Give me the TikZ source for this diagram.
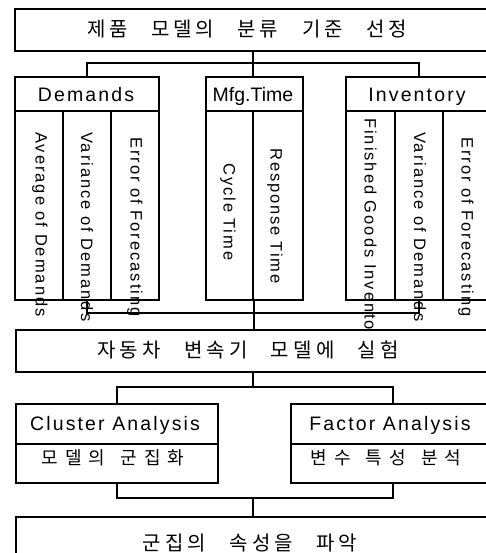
\documentclass[tikz,border=0pt]{standalone}
\usepackage{fontspec}
\setmainfont{Liberation Sans}
\newfontfamily\krfont{Noto Sans CJK KR}
\newcommand\bx[5]{\node[box, minimum width=#4pt, minimum height=#5pt] (#1) at (#2,#3) {};}
\newlength\kgap
\newlength\wgap
\newcommand\kk{\hspace{\kgap}}
\newcommand\ww{\hspace{\wgap}}
\newcommand\setgaps[2]{\setlength\kgap{#1pt}\setlength\wgap{#2pt}}
\begin{document}
\begin{tikzpicture}[x=1pt,y=-1pt,
  box/.style={draw, line width=1.8pt, fill=white, inner sep=0pt, anchor=north west},
  conn/.style={line width=1.9pt},
  hdr/.style={inner sep=0pt, anchor=base, font={\fontsize{19.5}{22}\selectfont\addfontfeature{LetterSpace=11}}},
  mfgt/.style={inner sep=0pt, anchor=base, font={\fontsize{19.5}{22}\selectfont}},
  vt/.style={inner sep=0pt, rotate=-90, anchor=west, font={\fontsize{16.5}{19}\selectfont\addfontfeature{LetterSpace=12}}},
  vtc/.style={inner sep=0pt, rotate=-90, anchor=center, font={\fontsize{16.5}{19}\selectfont\addfontfeature{LetterSpace=11}}},
  krA/.style={inner sep=0pt, font={\krfont\fontsize{20}{24}\selectfont\setgaps{3.5}{24}}},
  krB/.style={inner sep=0pt, font={\krfont\fontsize{20}{24}\selectfont\setgaps{4.2}{23.2}}},
  krC/.style={inner sep=0pt, font={\krfont\fontsize{18}{21}\selectfont\setgaps{7}{15}}},
  en/.style={inner sep=0pt, anchor=base, font={\fontsize{19.5}{22}\selectfont\addfontfeature{LetterSpace=11}}}
]
\useasboundingbox (0,0) rectangle (486,553);
\clip (0,0) rectangle (486,553);
% top
\bx{title}{14}{8}{481}{42}
\node[krA] (titletxt) at (247,29) {제\kk 품\ww 모\kk 델\kk 의\ww 분\kk 류\ww 기\kk 준\ww 선\kk 정};
\bx{dem}{14}{76}{144}{34}
\bx{mfg}{205}{76}{97}{34}
\bx{inv}{345}{76}{150}{34}
\node[hdr] (demtxt) at (86,102) {Demands};
\node[mfgt] (mfgtxt) at (253,102) {Mfg.Time};
\node[hdr] (invtxt) at (417,102) {Inventory};
% columns
\bx{demA}{14}{110}{48}{189}
\bx{demB}{62}{110}{48}{189}
\bx{demC}{110}{110}{48}{189}
\bx{mfgA}{205}{110}{47}{189}
\bx{mfgB}{252}{110}{50}{189}
\bx{invA}{345}{110}{49}{189}
\bx{invB}{394}{110}{48}{189}
\bx{invC}{442}{110}{53}{189}
\node[vt] (t1) at (40,132) {Average of Demands};
\node[vt] (t2) at (87,132) {Variance of Demands};
\node[vt] (t3) at (135,137) {Error of Forecasting};
\node[vtc] (t4) at (228,212) {Cycle Time};
\node[vtc] (t5) at (275,216) {Response Time};
\node[vt] (t6) at (369,118) {Finished Goods Inventory};
\node[vt] (t7) at (420,132) {Variance of Demands};
\node[vt] (t8) at (466,137) {Error of Forecasting};
% experiment box
\bx{exp}{15}{329}{480}{42}
\node[krB] (exptxt) at (248,350) {자\kk 동\kk 차\ww 변\kk 속\kk 기\ww 모\kk 델\kk 에\ww 실\kk 험};
% connectors top
\coordinate (j1) at (253,63);
\draw[conn] (title.south -| j1) -- (j1);
\draw[conn] (dem.north) |- (j1) -| (inv.north -| invB.center);
\draw[conn] (j1) -- (mfg.north -| j1);
\coordinate (j2) at (253,313);
\draw[conn] (demB.south) |- (j2) -| (invB.south);
\draw[conn] (mfgA.south east) -- (exp.north -| mfgA.south east);
% analysis boxes
\bx{clu}{15}{403}{202}{40}
\bx{cluK}{15}{443}{202}{39}
\bx{fac}{290}{403}{205}{40}
\bx{facK}{290}{443}{205}{39}
\node[en] (clutxt) at (115,430) {Cluster Analysis};
\node[en] (factxt) at (390,430) {Factor Analysis};
\node[krC] (cluKtxt) at (113,458) {모\kk 델\kk 의\ww 군\kk 집\kk 화};
\node[krC] (facKtxt) at (386,458) {변\kk 수\ww 특\kk 성\ww 분\kk 석};
\coordinate (j3) at (253,387);
\draw[conn] (exp.south -| j3) -- (j3);
\draw[conn] (clu.north) |- (j3) -| (fac.north);
% result
\bx{res}{15}{516}{480}{60}
\node[krB] (restxt) at (250,543) {군\kk 집\kk 의\ww 속\kk 성\kk 을\ww 파\kk 악};
\coordinate (j4) at (253,498);
\draw[conn] (cluK.south) |- (j4) -| (facK.south);
\draw[conn] (j4) -- (res.north -| j4);
\end{tikzpicture}
\end{document}
